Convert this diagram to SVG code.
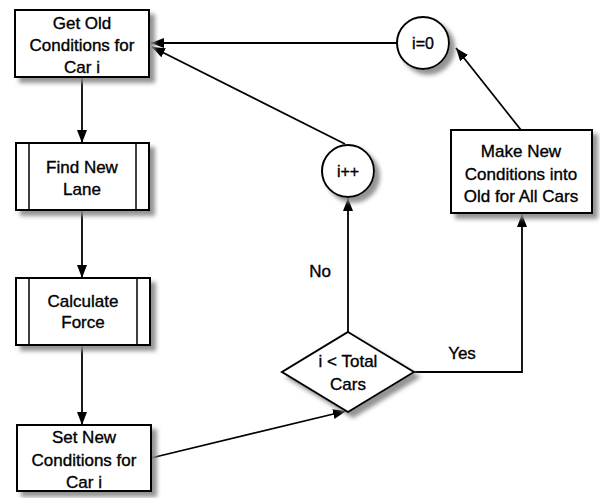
<svg xmlns="http://www.w3.org/2000/svg" width="600" height="498" viewBox="0 0 600 498">
<defs>
<filter id="sh" x="-20%" y="-20%" width="150%" height="150%">
<feDropShadow dx="5" dy="5" stdDeviation="2" flood-color="#888" flood-opacity="0.9"/>
</filter>
<marker id="arr" viewBox="0 0 13 10" refX="13" refY="5" markerWidth="13" markerHeight="10" orient="auto" markerUnits="userSpaceOnUse">
<path d="M0,0 L13,5 L0,10 z" fill="#000"/>
</marker>
</defs>
<style>
.box{fill:#fff;stroke:#000;stroke-width:2;filter:url(#sh)}
.in{stroke:#000;stroke-width:1.5;fill:none}
.t{font-family:"Liberation Sans",Arial,Helvetica,sans-serif;font-size:17px;fill:#000;stroke:#000;stroke-width:0.35;text-anchor:middle}
.c{fill:none;stroke:#000;stroke-width:1.8}
</style>
<rect width="600" height="498" fill="#fff"/>
<g id="connectors">
<line class="c" x1="82" y1="77" x2="82" y2="143" marker-end="url(#arr)"/>
<line class="c" x1="82" y1="210" x2="82" y2="278" marker-end="url(#arr)"/>
<line class="c" x1="82" y1="345" x2="82" y2="425" marker-end="url(#arr)"/>
<line class="c" x1="151" y1="458" x2="346" y2="411" marker-end="url(#arr)"/>
<line class="c" x1="348" y1="332" x2="348" y2="198" marker-end="url(#arr)"/>
<polyline class="c" points="414,372 522,372 522,214" marker-end="url(#arr)"/>
<line class="c" x1="521" y1="130" x2="456" y2="48" marker-end="url(#arr)"/>
<line class="c" x1="397" y1="43" x2="151" y2="43" marker-end="url(#arr)"/>
<line class="c" x1="345" y1="144" x2="152" y2="47" marker-end="url(#arr)"/>
<text class="t" x="320" y="277">No</text>
<text class="t" x="462" y="359">Yes</text>
</g>
<g id="get-old">
<rect class="box" x="15" y="10" width="134" height="67"/>
<text class="t" x="82" y="29">Get Old</text>
<text class="t" x="82" y="51">Conditions for</text>
<text class="t" x="82" y="73">Car i</text>
</g>
<g id="find-new-lane">
<rect class="box" x="16" y="143" width="133" height="67"/>
<line class="in" x1="29" y1="143" x2="29" y2="210"/>
<line class="in" x1="136" y1="143" x2="136" y2="210"/>
<text class="t" x="82" y="173">Find New</text>
<text class="t" x="82" y="195">Lane</text>
</g>
<g id="calculate-force">
<rect class="box" x="16" y="278" width="134" height="67"/>
<line class="in" x1="29" y1="278" x2="29" y2="345"/>
<line class="in" x1="137" y1="278" x2="137" y2="345"/>
<text class="t" x="83" y="307">Calculate</text>
<text class="t" x="83" y="328">Force</text>
</g>
<g id="set-new">
<rect class="box" x="17" y="425" width="134" height="66"/>
<text class="t" x="84" y="443">Set New</text>
<text class="t" x="84" y="466">Conditions for</text>
<text class="t" x="84" y="488">Car i</text>
</g>
<g id="decision">
<polygon class="box" points="348,332 414,372 348,412 282,372"/>
<text class="t" x="348" y="367">i &lt; Total</text>
<text class="t" x="348" y="390">Cars</text>
</g>
<g id="i-plus-plus">
<circle class="box" cx="348" cy="171" r="26"/>
<text class="t" x="348" y="177" style="font-size:16px">i++</text>
</g>
<g id="make-new">
<rect class="box" x="451" y="130" width="141" height="83"/>
<text class="t" x="521" y="157">Make New</text>
<text class="t" x="521" y="180">Conditions into</text>
<text class="t" x="521" y="202">Old for All Cars</text>
</g>
<g id="i-zero">
<circle class="box" cx="423" cy="43" r="26"/>
<text class="t" x="423" y="49" style="font-size:16px">i=0</text>
</g>
</svg>
